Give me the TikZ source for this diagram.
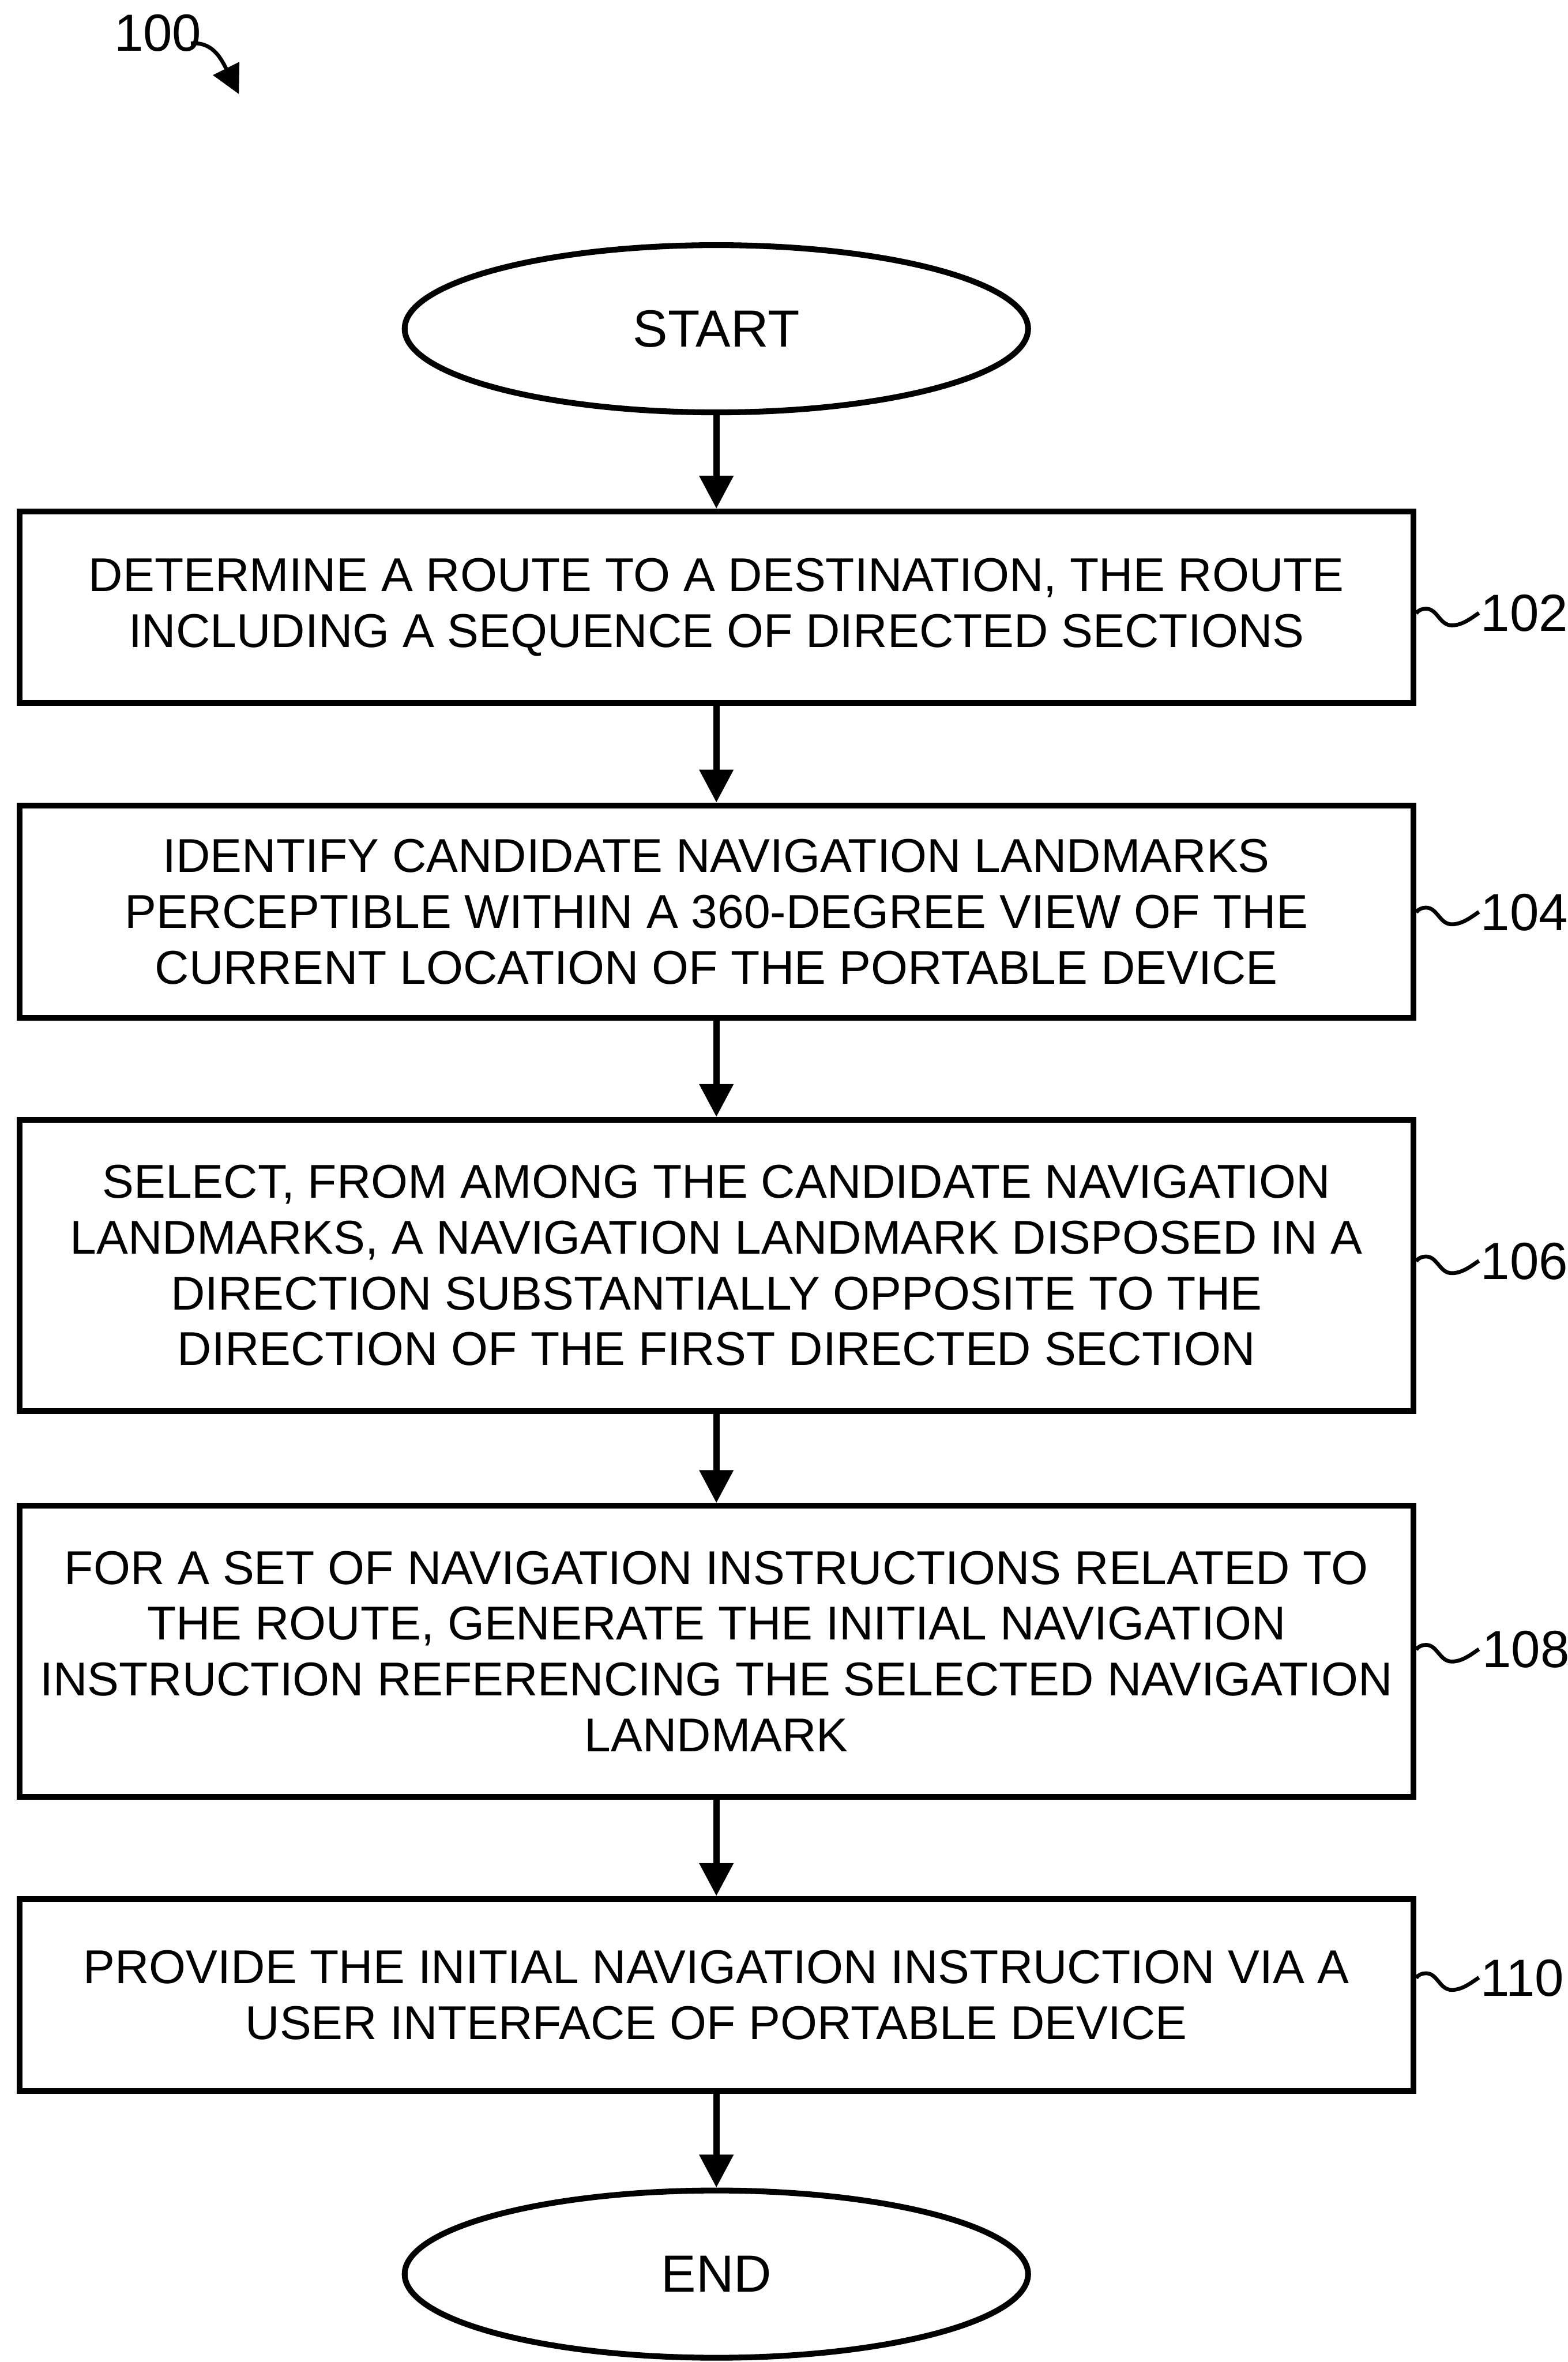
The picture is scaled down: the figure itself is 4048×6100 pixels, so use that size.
\documentclass[tikz,border=0pt]{standalone}
\usepackage{fontspec}
\setmainfont{Liberation Sans}
\usetikzlibrary{shapes.geometric,arrows.meta}
\begin{document}
\begin{tikzpicture}[x=0.1pt,y=-0.1pt,
  stepbox/.style={draw, line width=1.5pt, rectangle, minimum width=360pt, inner sep=0pt, align=center, font=\fontsize{12.25pt}{14.4pt}\selectfont},
  term/.style={draw, ellipse, line width=1.5pt, minimum width=161pt, minimum height=43.2pt, inner sep=0pt, font=\fontsize{13.5pt}{16pt}\selectfont},
  flow/.style={line width=1.6pt, -{Triangle[length=8.5pt,width=8.5pt]}},
  reflbl/.style={anchor=west, inner sep=0pt, font=\fontsize{13.5pt}{16pt}\selectfont},
  squig/.style={line width=1pt}
]
\useasboundingbox (0,0) rectangle (4048,6100);

% figure label
\node[anchor=base west, inner sep=0pt, font=\fontsize{13.5pt}{16pt}\selectfont] (l100) at (293,132) {100};
\coordinate (c100a) at (493,112);
\coordinate (c100b) at (617,243);
\draw[line width=1pt, -{Triangle[length=7.4pt,width=7.4pt]}] (c100a) .. controls (545,108) and (567,143) .. (c100b);

% terminals
\node[term] (start) at (1850,849) {START};
\node[term] (end) at (1850,5873) {END};

% steps
\node[stepbox, minimum height=49.5pt] (b102) at (1850,1568.5) {DETERMINE A ROUTE TO A DESTINATION, THE ROUTE\\INCLUDING A SEQUENCE OF DIRECTED SECTIONS};
\node[stepbox, minimum height=54.9pt] (b104) at (1850,2354.5) {IDENTIFY CANDIDATE NAVIGATION LANDMARKS\\PERCEPTIBLE WITHIN A 360-DEGREE VIEW OF THE\\CURRENT LOCATION OF THE PORTABLE DEVICE};
\node[stepbox, minimum height=75.2pt] (b106) at (1850,3268) {SELECT, FROM AMONG THE CANDIDATE NAVIGATION\\LANDMARKS, A NAVIGATION LANDMARK DISPOSED IN A\\DIRECTION SUBSTANTIALLY OPPOSITE TO THE\\DIRECTION OF THE FIRST DIRECTED SECTION};
\node[stepbox, minimum height=75.1pt] (b108) at (1850,4264.5) {FOR A SET OF NAVIGATION INSTRUCTIONS RELATED TO\\THE ROUTE, GENERATE THE INITIAL NAVIGATION\\INSTRUCTION REFERENCING THE SELECTED NAVIGATION\\LANDMARK};
\node[stepbox, minimum height=49.6pt] (b110) at (1850,5152) {PROVIDE THE INITIAL NAVIGATION INSTRUCTION VIA A\\USER INTERFACE OF PORTABLE DEVICE};

% flow arrows
\draw[flow] (start.south) -- (b102.north);
\draw[flow] (b102.south) -- (b104.north);
\draw[flow] (b104.south) -- (b106.north);
\draw[flow] (b106.south) -- (b108.north);
\draw[flow] (b108.south) -- (b110.north);
\draw[flow] (b110.south) -- (end.north);

% reference labels
\node[reflbl] (l102) at (3822,1584) {102};
\node[reflbl] (l104) at (3822,2356) {104};
\node[reflbl] (l106) at (3822,3257) {106};
\node[reflbl] (l108) at (3826,4260) {108};
\node[reflbl] (l110) at (3822,5108) {110};

\foreach \b/\l in {b102/l102, b104/l104, b106/l106, b108/l108, b110/l110}{
  \draw[squig, shift={(\b.east |- \l.west)}] (0,0) .. controls (5,-8) and (15,-12) .. (25,-12)
     .. controls (55,-12) and (60,31) .. (92,31) .. controls (120,31) and (145,10) .. (162,-1);
}
\end{tikzpicture}
\end{document}
